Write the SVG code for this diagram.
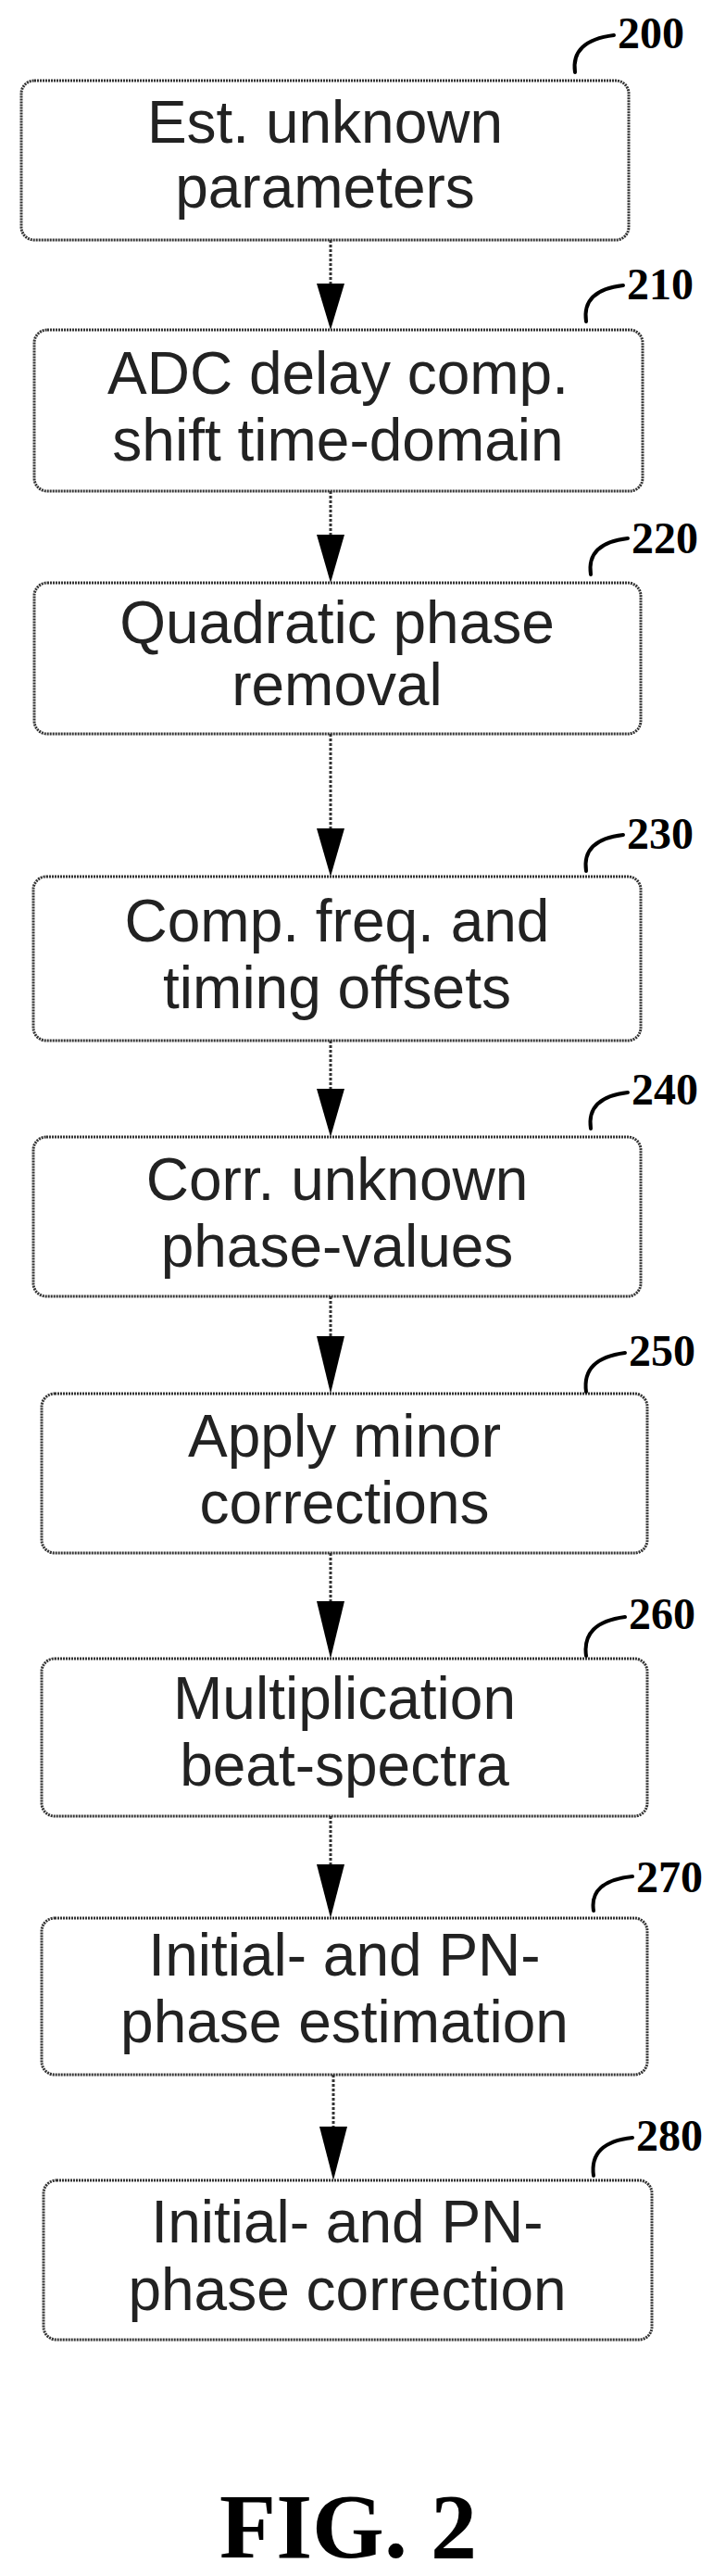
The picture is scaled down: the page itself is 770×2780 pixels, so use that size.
<svg xmlns="http://www.w3.org/2000/svg" width="770" height="2780" viewBox="0 0 770 2780">
<defs>
<style>
.box{fill:#fff;stroke:#333;stroke-width:3;stroke-dasharray:2 1}
.t{font-family:"Liberation Sans",Arial,sans-serif;font-size:64px;fill:#222;text-anchor:middle}
.lbl{font-family:"Liberation Serif","Times New Roman",serif;font-weight:bold;font-size:48px;fill:#000}
.lead{fill:none;stroke:#000;stroke-width:4;stroke-linecap:round}
.con{stroke:#333;stroke-width:3;stroke-dasharray:3 2;fill:none}
.fig{font-family:"Liberation Serif","Times New Roman",serif;font-weight:bold;font-size:100px;fill:#000;text-anchor:middle}
</style>
</defs>
<rect width="770" height="2780" fill="#fff"/>
<g id="connectors">
<path class="con" d="M357,259 V306"/><path d="M342,306 L372,306 L357,356 Z"/>
<path class="con" d="M357,530 V577"/><path d="M342,577 L372,577 L357,629 Z"/>
<path class="con" d="M357,792 V894"/><path d="M342,894 L372,894 L357,946 Z"/>
<path class="con" d="M357,1123 V1175"/><path d="M342,1175 L372,1175 L357,1227 Z"/>
<path class="con" d="M357,1399 V1442"/><path d="M342,1442 L372,1442 L357,1504 Z"/>
<path class="con" d="M357,1676 V1728"/><path d="M342,1728 L372,1728 L357,1790 Z"/>
<path class="con" d="M357,1960 V2012"/><path d="M342,2012 L372,2012 L357,2070 Z"/>
<path class="con" d="M360,2239 V2295"/><path d="M345,2295 L375,2295 L360,2353 Z"/>
</g>
<g id="n200">
<rect class="box" x="23" y="87" width="656" height="172" rx="14"/>
<text class="t" x="351" y="154">Est. unknown</text><text class="t" x="351" y="224">parameters</text>
<path class="lead" d="M621,78 Q616,44 663,38"/><text class="lbl" x="667" y="52">200</text>
</g>
<g id="n210">
<rect class="box" x="37" y="356" width="657" height="174" rx="14"/>
<text class="t" x="365" y="425">ADC delay comp.</text><text class="t" x="365" y="497">shift time-domain</text>
<path class="lead" d="M633,347 Q628,313 673,308"/><text class="lbl" x="677" y="323">210</text>
</g>
<g id="n220">
<rect class="box" x="37" y="629" width="655" height="163" rx="14"/>
<text class="t" x="364" y="694">Quadratic phase</text><text class="t" x="364" y="761">removal</text>
<path class="lead" d="M638,620 Q633,586 678,581"/><text class="lbl" x="682" y="597">220</text>
</g>
<g id="n230">
<rect class="box" x="36" y="946" width="656" height="177" rx="14"/>
<text class="t" x="364" y="1016">Comp. freq. and</text><text class="t" x="364" y="1088">timing offsets</text>
<path class="lead" d="M633,940 Q628,906 673,901"/><text class="lbl" x="677" y="916">230</text>
</g>
<g id="n240">
<rect class="box" x="36" y="1227" width="656" height="172" rx="14"/>
<text class="t" x="364" y="1295">Corr. unknown</text><text class="t" x="364" y="1367">phase-values</text>
<path class="lead" d="M638,1218 Q633,1184 678,1179"/><text class="lbl" x="682" y="1192">240</text>
</g>
<g id="n250">
<rect class="box" x="45" y="1504" width="654" height="172" rx="14"/>
<text class="t" x="372" y="1572">Apply minor</text><text class="t" x="372" y="1644">corrections</text>
<path class="lead" d="M633,1502 Q628,1466 675,1460"/><text class="lbl" x="679" y="1474">250</text>
</g>
<g id="n260">
<rect class="box" x="45" y="1790" width="654" height="170" rx="14"/>
<text class="t" x="372" y="1855">Multiplication</text><text class="t" x="372" y="1927">beat-spectra</text>
<path class="lead" d="M633,1787 Q628,1751 675,1745"/><text class="lbl" x="679" y="1758">260</text>
</g>
<g id="n270">
<rect class="box" x="45" y="2070" width="654" height="169" rx="14"/>
<text class="t" x="372" y="2132">Initial- and PN-</text><text class="t" x="372" y="2204">phase estimation</text>
<path class="lead" d="M641,2062 Q636,2030 683,2025"/><text class="lbl" x="687" y="2042">270</text>
</g>
<g id="n280">
<rect class="box" x="47" y="2353" width="657" height="172" rx="14"/>
<text class="t" x="375" y="2420">Initial- and PN-</text><text class="t" x="375" y="2493">phase correction</text>
<path class="lead" d="M641,2348 Q636,2312 683,2307"/><text class="lbl" x="687" y="2321">280</text>
</g>
<text class="fig" x="376" y="2760">FIG. 2</text>
</svg>
